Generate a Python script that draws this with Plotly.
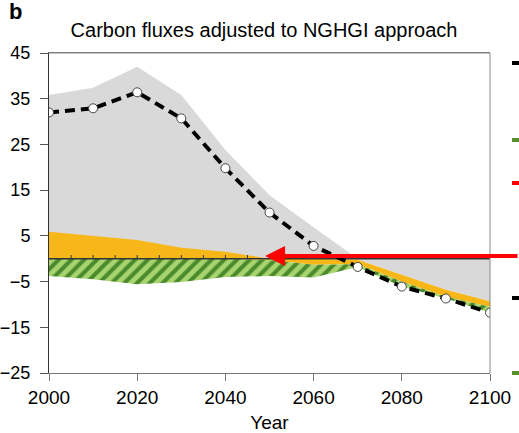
import plotly.graph_objects as go

# Decadal carbon fluxes (GtCO2/yr), stacked by component
years = [2000, 2010, 2020, 2030, 2040, 2050, 2060, 2070, 2080, 2090, 2100]
gray_flux = [29.9, 32.4, 37.9, 33.4, 22.3, 13.9, 6.9, -0.2, -3.5, -6.8, -9.3]
orange_flux = [5.9, 5.0, 4.1, 2.4, 1.5, -0.3, -1.3, -1.0, -1.5, -1.5, -1.2]
green_flux = [-3.8, -4.5, -5.6, -5.1, -4.0, -3.5, -2.8, -0.6, -1.1, -0.4, -1.3]

x_ticks = [2000, 2020, 2040, 2060, 2080, 2100]
y_ticks = [45, 35, 25, 15, 5, -5, -15, -25]
y_tick_text = ["45", "35", "25", "15", "5", "\u22125", "\u221215", "\u221225"]

GRAY = "#d9d9d9"
ORANGE = "#f8b718"
GREEN_BG = "#a8d470"
GREEN_FG = "#4a8a2c"
FONT = "Liberation Sans, Arial, sans-serif"

# Positive stack: orange first, then gray on top of it
pos_orange = [max(o, 0) for o in orange_flux]
pos_top = [max(o, 0) + max(g, 0) for o, g in zip(orange_flux, gray_flux)]
# Negative stack: gray, then orange, then green
neg_gray = [min(g, 0) for g in gray_flux]
neg_orange = [a + min(o, 0) for a, o in zip(neg_gray, orange_flux)]
neg_green = [a + gr for a, gr in zip(neg_orange, green_flux)]
net = [g + o + gr for g, o, gr in zip(gray_flux, orange_flux, green_flux)]
zeros = [0] * len(years)

fig = go.Figure()


def band(lower, upper, color, pattern=None):
    fig.add_trace(go.Scatter(x=years, y=lower, mode="lines", line=dict(width=0),
                             hoverinfo="skip", showlegend=False))
    kw = dict(x=years, y=upper, mode="lines", line=dict(width=0), fill="tonexty",
              fillcolor=color, hoverinfo="skip", showlegend=False)
    if pattern:
        kw["fillpattern"] = pattern
    fig.add_trace(go.Scatter(**kw))


band(zeros, pos_top, GRAY)
band(zeros, neg_gray, GRAY)
band(zeros, pos_orange, ORANGE)
band(neg_gray, neg_orange, ORANGE)
band(neg_orange, neg_green, GREEN_BG,
     pattern=dict(shape="/", bgcolor=GREEN_BG, fgcolor=GREEN_FG,
                  size=9, solidity=0.45, fillmode="replace"))

# Zero line with small 5-year ticks
fig.add_trace(go.Scatter(x=[2000, 2100], y=[0, 0], mode="lines",
                         line=dict(color="#333333", width=1.5),
                         hoverinfo="skip", showlegend=False))
tick_x, tick_y = [], []
for yr in range(2005, 2100, 5):
    tick_x += [yr, yr, None]
    tick_y += [0, 0.8, None]
fig.add_trace(go.Scatter(x=tick_x, y=tick_y, mode="lines",
                         line=dict(color="#333333", width=1),
                         hoverinfo="skip", showlegend=False))

# Net flux
fig.add_trace(go.Scatter(x=years, y=net, mode="lines+markers",
                         line=dict(color="black", width=4, dash="10px,6px"),
                         marker=dict(symbol="circle", size=9, color="white",
                                     line=dict(color="#444444", width=1)),
                         showlegend=False))

# Red arrow pointing at the zero crossing of the orange band
fig.add_annotation(x=2049, y=0.6, xref="x", yref="y", ax=260, ay=0,
                   axref="pixel", ayref="pixel", text="", showarrow=True,
                   arrowhead=2, arrowsize=1, arrowwidth=4, arrowcolor="#ff0000")

# Cut-off legend keys along the right edge
for yp, col in [(63, "black"), (140, "#5a8f2e"), (183, "#ff0000"),
                (298, "black"), (373, "#5a8f2e")]:
    fig.add_shape(type="line", xref="paper", yref="paper",
                  x0=(512 - 49) / 441, x1=(522 - 49) / 441,
                  y0=(373 - yp) / 320, y1=(373 - yp) / 320,
                  line=dict(color=col, width=4))

fig.add_annotation(text="<b>b</b>", xref="paper", yref="paper",
                   x=-42 / 441, y=(373 - 12) / 320, xanchor="left", yanchor="middle",
                   showarrow=False, font=dict(size=22, color="black", family=FONT))

fig.update_layout(
    width=519, height=433,
    margin=dict(l=49, r=29, t=53, b=60, autoexpand=False),
    paper_bgcolor="white", plot_bgcolor="white",
    font=dict(family=FONT, size=19, color="black"),
    title=dict(text="Carbon fluxes adjusted to NGHGI approach",
               x=264 / 519, xanchor="center", y=1 - 30 / 433,
               yanchor="middle", font=dict(size=20, color="black")),
    xaxis=dict(range=[2000, 2100], tickvals=x_ticks, ticks="outside", ticklen=7,
               tickcolor="#777777", showline=True, linecolor="#777777", linewidth=1,
               mirror=True, showgrid=False, zeroline=False, automargin=False,
               title=dict(text="Year", font=dict(size=19), standoff=8),
               tickfont=dict(size=19)),
    yaxis=dict(range=[-25, 45], tickvals=y_ticks, ticktext=y_tick_text,
               ticks="outside", ticklen=8, tickcolor="#555555", automargin=False,
               showline=True, linecolor="#333333", linewidth=1, mirror=False,
               showgrid=False, zeroline=False, tickfont=dict(size=18),
               ticklabelstandoff=6),
)
# Top and right frame in gray
fig.add_shape(type="line", xref="paper", yref="paper", x0=0, x1=1, y0=1, y1=1,
              line=dict(color="#888888", width=1))
fig.add_shape(type="line", xref="paper", yref="paper", x0=1, x1=1, y0=0, y1=1,
              line=dict(color="#888888", width=1))

fig.write_html("out.html")
